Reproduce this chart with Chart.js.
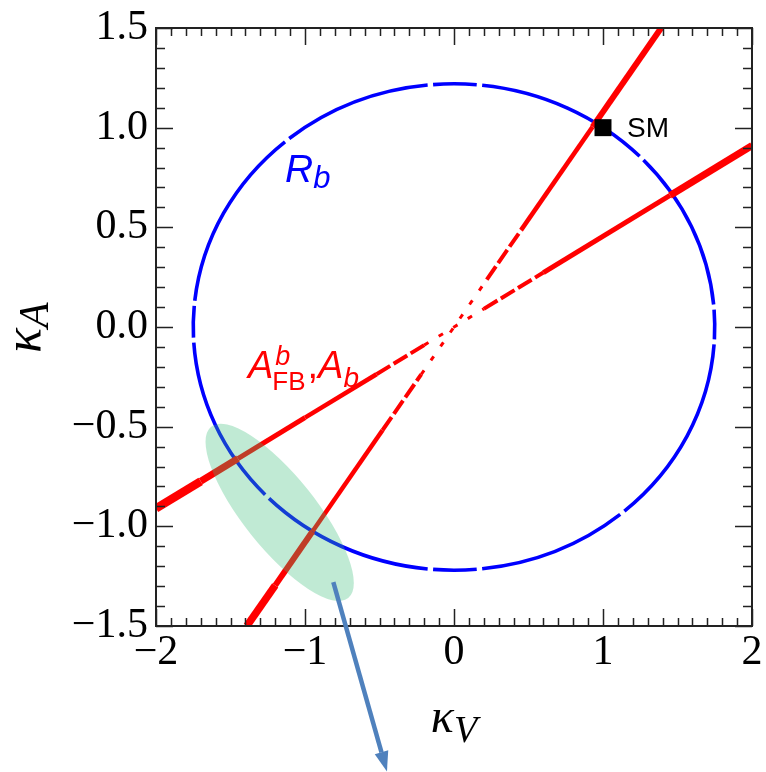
<!DOCTYPE html>
<html>
<head>
<meta charset="utf-8">
<script src="https://cdn.jsdelivr.net/npm/chart.js@4.4.0/dist/chart.umd.min.js"></script>
<style>
  html, body { margin: 0; padding: 0; background: #fff; }
  canvas { display: block; }
</style>
</head>
<body>
<canvas id="chart" width="766" height="772"></canvas>
<script>
// axis ticks
const xTicks = [-2, -1, 0, 1, 2];
const xTickLabels = ['−2', '−1', '0', '1', '2'];
const yTicks = [-1.5, -1, -0.5, 0, 0.5, 1, 1.5];
const yTickLabels = ['−1.5', '−1.0', '−0.5', '0.0', '0.5', '1.0', '1.5'];

// R_b contour: centre, half axes, and the small breaks in its outline (degrees)
const rbCenter = [0, 0];
const rbRadii = [1.75, 1.22];
const rbGaps = [4.7, 44, 84.4, 95.2, 129.8, 174.4, 183.1, 224.2, 264.8, 275.6, 310.2, 356.5];

// A_FB^b / A_b bands, broken into pieces of different width
const steepX = [-1.39, -1.2, -0.95, -0.48, -0.22, 0.22, 0.45, 0.93, 1.39];
const steepY = [-1.50, -1.296, -1.026, -0.518, -0.238, 0.238, 0.486, 1.004, 1.50];
const steepW = [7.5, 6, 4.5, 4, 3, 4, 4.5, 6];
const steepDash = ['', '', '', 'dash', 'dot', 'dash', '', ''];
const shallowX = [-2, -1.7, -1.45, -1.0, -0.52, -0.2, 0.2, 0.6, 1.45, 2];
const shallowY = [-0.91, -0.774, -0.66, -0.455, -0.237, -0.091, 0.091, 0.273, 0.66, 0.91];
const shallowW = [8.5, 7, 5, 4.5, 4, 3, 4, 5, 7];
const shallowDash = ['', '', '', '', 'dash', 'dot', 'dash', '', ''];

// Standard Model point
const smPoint = [1, 1];

// highlighted region and the arrow leaving it
const greenCenter = [-1.17, -0.93];
const greenTip = [-0.71, -1.36];
const greenRatio = 0.33;
const arrowFrom = [-0.81, -1.28];
const arrowTo = [-0.45, -2.23];

// text labels (data position of the first glyph's baseline)
const rbLabelPos = [-1.134, 0.729];
const afbLabelPos = [-1.383, -0.256];
const smLabelPos = [1.161, 0.955];

const dashStyles = { '': [], dash: [16, 4], dot: [5, 12] };
const datasets = [];

function addBand(xs, ys, ws, dashes) {
    for (let i = 0; i < ws.length; i++) {
        datasets.push({
            data: [{ x: xs[i], y: ys[i] }, { x: xs[i + 1], y: ys[i + 1] }],
            showLine: true,
            borderColor: '#ff0000',
            borderWidth: ws[i],
            borderDash: dashStyles[dashes[i]],
            pointRadius: 0,
            order: 2
        });
    }
}
addBand(steepX, steepY, steepW, steepDash);
addBand(shallowX, shallowY, shallowW, shallowDash);

datasets.push({
    data: [{ x: smPoint[0], y: smPoint[1] }],
    showLine: false,
    pointStyle: 'rect',
    pointRadius: 12,
    pointBackgroundColor: '#000',
    pointBorderWidth: 0,
    order: 0
});

const X = (chart, v) => chart.scales.x.getPixelForValue(v);
const Y = (chart, v) => chart.scales.y.getPixelForValue(v);

// draws a run of text pieces; a piece with stack:true does not advance the pen
function drawParts(ctx, x, y, parts) {
    let cx = x;
    let stackW = 0;
    parts.forEach(p => {
        ctx.font = p.font;
        const w = ctx.measureText(p.text).width;
        ctx.fillText(p.text, cx + (p.dx || 0), y + (p.dy || 0));
        if (p.stack) {
            stackW = Math.max(stackW, w + (p.dx || 0));
        } else {
            cx += Math.max(w + (p.dx || 0), stackW);
            stackW = 0;
        }
    });
    return cx - x;
}

const decorPlugin = {
    id: 'decor',
    beforeDatasetsDraw(chart) {
        const { ctx, chartArea: a } = chart;
        const cx = X(chart, rbCenter[0]), cy = Y(chart, rbCenter[1]);
        const rx = X(chart, rbCenter[0] + rbRadii[0]) - cx;
        const ry = cy - Y(chart, rbCenter[1] + rbRadii[1]);
        ctx.save();
        ctx.beginPath();
        ctx.rect(a.left, a.top, a.right - a.left, a.bottom - a.top);
        ctx.clip();
        ctx.strokeStyle = '#0000ff';
        ctx.lineWidth = 3.6;
        const gaps = rbGaps.slice().sort((p, q) => p - q);
        const half = 0.6;
        for (let i = 0; i < gaps.length; i++) {
            const start = gaps[i] + half;
            const end = (i + 1 < gaps.length ? gaps[i + 1] : gaps[0] + 360) - half;
            ctx.beginPath();
            ctx.ellipse(cx, cy, rx, ry, 0, -start * Math.PI / 180, -end * Math.PI / 180, true);
            ctx.stroke();
        }
        ctx.restore();
    },
    afterDatasetsDraw(chart) {
        const { ctx, chartArea: a } = chart;
        ctx.save();

        // shaded region
        const gx = X(chart, greenCenter[0]), gy = Y(chart, greenCenter[1]);
        const tx = X(chart, greenTip[0]), ty = Y(chart, greenTip[1]);
        const ga = Math.hypot(tx - gx, ty - gy);
        ctx.fillStyle = 'rgba(60, 190, 120, 0.32)';
        ctx.beginPath();
        ctx.ellipse(gx, gy, ga, ga * greenRatio, Math.atan2(ty - gy, tx - gx), 0, 2 * Math.PI);
        ctx.fill();

        // ticks on all four sides, pointing in
        ctx.strokeStyle = '#222';
        ctx.lineWidth = 1.5;
        ctx.beginPath();
        for (let i = -20; i <= 20; i++) {
            const px = Math.round(X(chart, i / 10)) + 0.5;
            const len = i % 10 === 0 ? 17 : 8;
            ctx.moveTo(px, a.bottom); ctx.lineTo(px, a.bottom - len);
            ctx.moveTo(px, a.top); ctx.lineTo(px, a.top + len);
        }
        for (let i = -15; i <= 15; i++) {
            const py = Math.round(Y(chart, i / 10)) + 0.5;
            const len = i % 5 === 0 ? 17 : 9;
            ctx.moveTo(a.left, py); ctx.lineTo(a.left + len, py);
            ctx.moveTo(a.right, py); ctx.lineTo(a.right - len, py);
        }
        ctx.stroke();
        ctx.lineWidth = 2;
        ctx.strokeRect(a.left, a.top, a.right - a.left, a.bottom - a.top);

        // arrow
        const x0 = X(chart, arrowFrom[0]), y0 = Y(chart, arrowFrom[1]);
        const x1 = X(chart, arrowTo[0]), y1 = Y(chart, arrowTo[1]);
        const ang = Math.atan2(y1 - y0, x1 - x0);
        const head = 20, hw = 7;
        ctx.strokeStyle = '#4f81bd';
        ctx.fillStyle = '#4f81bd';
        ctx.lineWidth = 4.5;
        ctx.beginPath();
        ctx.moveTo(x0, y0);
        ctx.lineTo(x1 - head * Math.cos(ang), y1 - head * Math.sin(ang));
        ctx.stroke();
        ctx.beginPath();
        ctx.moveTo(x1, y1);
        ctx.lineTo(x1 - head * Math.cos(ang) + hw * Math.sin(ang), y1 - head * Math.sin(ang) - hw * Math.cos(ang));
        ctx.lineTo(x1 - head * Math.cos(ang) - hw * Math.sin(ang), y1 - head * Math.sin(ang) + hw * Math.cos(ang));
        ctx.closePath();
        ctx.fill();
        ctx.restore();
    },
    afterDraw(chart) {
        const { ctx, chartArea: a } = chart;
        ctx.save();
        ctx.textAlign = 'left';
        ctx.textBaseline = 'alphabetic';

        // R_b
        ctx.fillStyle = '#0000ff';
        drawParts(ctx, X(chart, rbLabelPos[0]), Y(chart, rbLabelPos[1]), [
            { text: 'R', font: 'italic 39px "Liberation Sans"' },
            { text: 'b', font: 'italic 31px "Liberation Sans"', dy: 6 }
        ]);

        // A_FB^b, A_b
        ctx.fillStyle = '#ff0000';
        drawParts(ctx, X(chart, afbLabelPos[0]), Y(chart, afbLabelPos[1]), [
            { text: 'A', font: 'italic 38px "Liberation Sans"' },
            { text: 'b', font: 'italic 27px "Liberation Sans"', dy: -13, dx: 2, stack: true },
            { text: 'FB', font: '26px "Liberation Sans"', dy: 12, dx: -1 },
            { text: ',', font: '38px "Liberation Sans"', dx: 2 },
            { text: 'A', font: 'italic 38px "Liberation Sans"' },
            { text: 'b', font: 'italic 28px "Liberation Sans"', dy: 9 }
        ]);

        // SM
        ctx.fillStyle = '#000';
        ctx.font = '28px "Liberation Sans"';
        ctx.fillText('SM', X(chart, smLabelPos[0]), Y(chart, smLabelPos[1]));

        // axis titles
        const kV = [
            { text: 'κ', font: 'italic 48px "Liberation Serif"' },
            { text: 'V', font: 'italic 38px "Liberation Serif"', dy: 10 }
        ];
        ctx.font = kV[0].font;
        let w = ctx.measureText('κ').width;
        ctx.font = kV[1].font;
        w += ctx.measureText('V').width;
        drawParts(ctx, (a.left + a.right) / 2 - w / 2, a.bottom + 106, kV);

        ctx.translate(40, (a.top + a.bottom) / 2 + 26);
        ctx.rotate(-Math.PI / 2);
        drawParts(ctx, 0, 0, [
            { text: 'κ', font: 'italic 52px "Liberation Serif"' },
            { text: 'A', font: 'italic 42px "Liberation Serif"', dy: 8 }
        ]);
        ctx.restore();
    }
};

const tickFont = { family: '"Liberation Serif", "Times New Roman", serif', size: 42 };

new Chart(document.getElementById('chart'), {
    type: 'scatter',
    data: { datasets: datasets },
    options: {
        responsive: false,
        animation: false,
        events: [],
        layout: { padding: { left: 0, right: 14, top: 28, bottom: 0 } },
        plugins: { legend: { display: false }, tooltip: { enabled: false } },
        scales: {
            x: {
                type: 'linear',
                min: -2,
                max: 2,
                afterBuildTicks: s => { s.ticks = xTicks.map(v => ({ value: v })); },
                afterFit: s => { s.height = 146; s.paddingLeft = 0; s.paddingRight = 0; },
                ticks: {
                    callback: v => xTickLabels[xTicks.indexOf(v)],
                    font: tickFont,
                    color: '#000',
                    padding: 2,
                    maxRotation: 0,
                    autoSkip: false
                },
                grid: { display: false, drawTicks: false },
                border: { display: false }
            },
            y: {
                type: 'linear',
                min: -1.5,
                max: 1.5,
                afterBuildTicks: s => { s.ticks = yTicks.map(v => ({ value: v })); },
                afterFit: s => { s.width = 156; s.paddingTop = 0; s.paddingBottom = 0; },
                ticks: {
                    callback: v => yTickLabels[yTicks.indexOf(v)],
                    font: tickFont,
                    color: '#000',
                    padding: 8,
                    autoSkip: false
                },
                grid: { display: false, drawTicks: false },
                border: { display: false }
            }
        }
    },
    plugins: [decorPlugin]
});
</script>
</body>
</html>
